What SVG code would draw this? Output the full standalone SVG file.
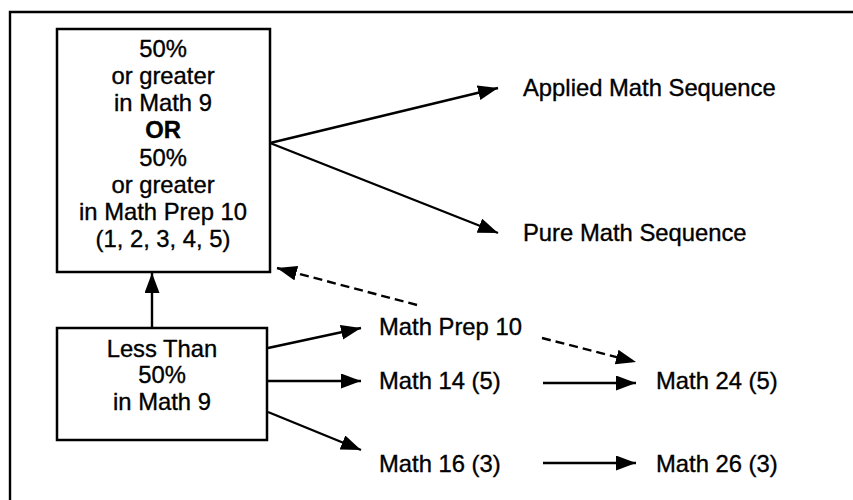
<svg xmlns="http://www.w3.org/2000/svg" width="853" height="500" viewBox="0 0 853 500">
<defs>
<style>
text{font-family:"Liberation Sans",Arial,sans-serif;font-size:23.8px;fill:#000;stroke:#000;stroke-width:0.35}
.c{text-anchor:middle}
.box{fill:#fff;stroke:#000;stroke-width:2.5}
.ln{fill:none;stroke:#000;stroke-width:2.4}
.d{stroke-dasharray:9 5}
</style>
<marker id="ah" markerUnits="userSpaceOnUse" markerWidth="22" markerHeight="16" refX="20" refY="7.5" orient="auto">
<path d="M0,0 L20,7.5 L0,15 Z" fill="#000"/>
</marker>
</defs>
<rect width="853" height="500" fill="#fff"/>
<path class="ln" d="M10,500 V12 H853" stroke-width="2.5"/>
<g id="connectors">
<line class="ln" x1="152" y1="328" x2="152" y2="273" marker-end="url(#ah)"/>
<line class="ln" x1="270" y1="143" x2="498" y2="88" marker-end="url(#ah)"/>
<line class="ln" x1="270" y1="143" x2="498" y2="233" marker-end="url(#ah)"/>
<line class="ln d" x1="417" y1="305" x2="277" y2="268" marker-end="url(#ah)"/>
<line class="ln" x1="268" y1="348" x2="361" y2="328" marker-end="url(#ah)"/>
<line class="ln" x1="268" y1="381" x2="361" y2="381" marker-end="url(#ah)"/>
<line class="ln" x1="268" y1="412" x2="361" y2="450" marker-end="url(#ah)"/>
<line class="ln d" x1="542" y1="338" x2="636" y2="362" marker-end="url(#ah)"/>
<line class="ln" x1="543" y1="383" x2="636" y2="383" marker-end="url(#ah)"/>
<line class="ln" x1="543" y1="463" x2="636" y2="463" marker-end="url(#ah)"/>
</g>
<g id="top-box">
<rect class="box" x="57" y="29" width="213" height="243"/>
<text class="c" x="163" y="57">50%</text>
<text class="c" x="163" y="84">or greater</text>
<text class="c" x="163" y="111">in Math 9</text>
<text class="c" x="163" y="138" font-weight="bold">OR</text>
<text class="c" x="163" y="166">50%</text>
<text class="c" x="163" y="193">or greater</text>
<text class="c" x="163" y="220">in Math Prep 10</text>
<text class="c" x="163" y="247">(1, 2, 3, 4, 5)</text>
</g>
<g id="bottom-box">
<rect class="box" x="57" y="328" width="210" height="112"/>
<text class="c" x="162" y="357">Less Than</text>
<text class="c" x="162" y="383">50%</text>
<text class="c" x="162" y="410">in Math 9</text>
</g>
<g id="applied"><text x="523" y="96">Applied Math Sequence</text></g>
<g id="pure"><text x="523" y="241">Pure Math Sequence</text></g>
<g id="prep10"><text x="379" y="335">Math Prep 10</text></g>
<g id="math14"><text x="379" y="389">Math 14 (5)</text></g>
<g id="math16"><text x="379" y="472">Math 16 (3)</text></g>
<g id="math24"><text x="656" y="389">Math 24 (5)</text></g>
<g id="math26"><text x="656" y="472">Math 26 (3)</text></g>
</svg>
